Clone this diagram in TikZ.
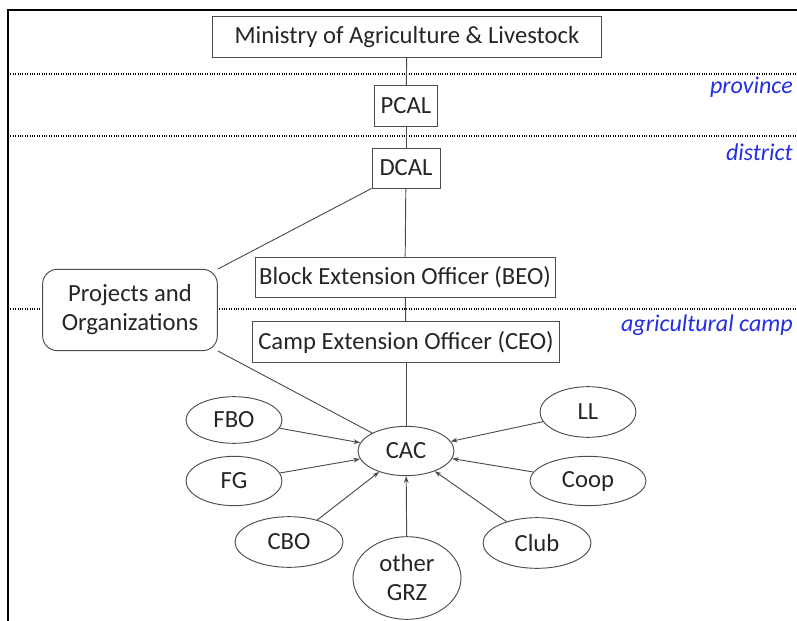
\documentclass[tikz,border=0pt]{standalone}
\usepackage{fontspec}
\setmainfont{Carlito}
\usetikzlibrary{shapes.geometric,arrows.meta}
\definecolor{levelblue}{RGB}{35,45,225}
\tikzset{
  unit/.style={draw=black!70, fill=white, rectangle, inner sep=0pt, line width=0.7pt},
  group/.style={draw=black!70, fill=white, ellipse, inner sep=0pt, line width=0.7pt},
  level/.style={anchor=east, inner sep=0pt, text=levelblue, font=\fontsize{18}{20}\selectfont\itshape},
  link/.style={draw=black!70, line width=0.7pt},
  feed/.style={link, -{Stealth[length=5pt,width=3.5pt]}},
}
\begin{document}
\begin{tikzpicture}[x=0.75pt,y=-0.75pt,font=\fontsize{18.5}{21.75}\selectfont,text=black!85]
\useasboundingbox (0,0) rectangle (797,621);

% frame and level lines
\draw[line width=1.2pt] (8,621) -- (8,10) -- (797,10);
\foreach \y in {74,136,309}
  \draw[densely dotted, line width=0.8pt] (8,\y) -- (797,\y);

\node[level] (prov) at (793,87) {province};
\node[level] (dist) at (793,152) {district};
\node[level] (camp) at (793,325) {agricultural camp};

% hierarchy
\node[unit, minimum width=292pt, minimum height=31pt] (ministry) at (407,37) {Ministry of Agriculture \& Livestock};
\node[unit, minimum width=47pt, minimum height=31pt] (pcal) at (406,106) {PCAL};
\node[unit, minimum width=51pt, minimum height=30pt] (dcal) at (406,168) {DCAL};
\node[unit, minimum width=225pt, minimum height=30pt] (beo) at (405,277) {Block Extension Officer (BEO)};
\node[unit, minimum width=230pt, minimum height=31pt] (ceo) at (406,342) {Camp Extension Officer (CEO)};
\node[unit, rounded corners=11pt, align=center, minimum width=131pt, minimum height=61pt] (proj) at (130,310) {Projects and\\Organizations};

% camp groups
\node[group, minimum width=72pt, minimum height=37pt] (cac) at (406,451) {CAC};
\node[group, minimum width=72pt, minimum height=35pt] (fbo) at (234,420) {FBO};
\node[group, minimum width=72pt, minimum height=37pt] (fg) at (234,481) {FG};
\node[group, minimum width=81pt, minimum height=38pt] (cbo) at (289,542) {CBO};
\node[group, align=center, minimum width=81pt, minimum height=62pt] (grz) at (407,578) {other\\GRZ};
\node[group, minimum width=81pt, minimum height=38pt] (club) at (537,543) {Club};
\node[group, minimum width=87pt, minimum height=37pt] (coop) at (588,481) {Coop};
\node[group, minimum width=72pt, minimum height=38pt] (ll) at (588,412) {LL};

% connectors
\draw[link] (ministry) -- (pcal);
\draw[link] (pcal) -- (dcal);
\draw[link] (dcal) -- (beo);
\draw[link] (beo) -- (ceo);
\draw[link] (ceo) -- (cac);
\draw[link] (proj.25) -- (dcal.south west);
\draw[link] (proj.-25) -- (cac);
\foreach \g in {fbo,fg,cbo,grz,club,coop,ll}
  \draw[feed] (\g) -- (cac);
\end{tikzpicture}
\end{document}
